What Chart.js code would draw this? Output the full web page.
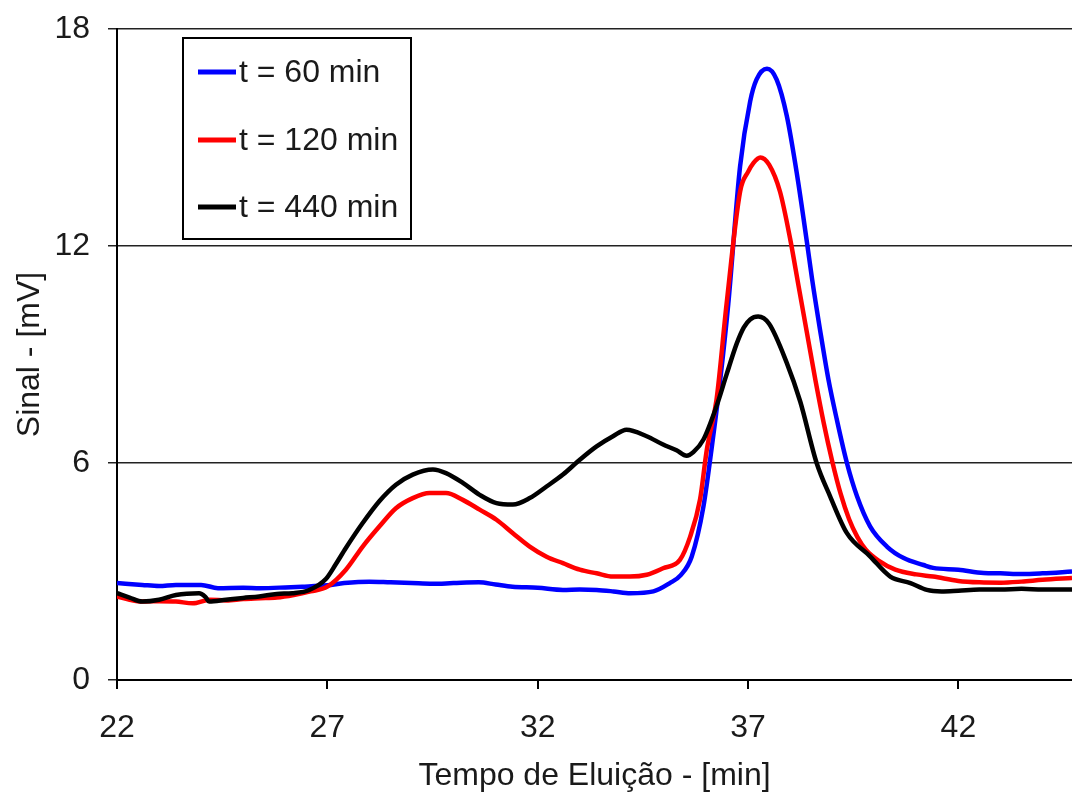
<!DOCTYPE html>
<html>
<head>
<meta charset="utf-8">
<script src="https://cdn.jsdelivr.net/npm/chart.js@4.4.1/dist/chart.umd.min.js"></script>
<style>
  html, body { margin: 0; padding: 0; background: #fff; }
  canvas { display: block; }
</style>
</head>
<body>
<canvas id="chromChart" width="1072" height="794"></canvas>
<script>
// series labels and colours
const seriesLabels = ['t = 60 min', 't = 120 min', 't = 440 min'];
const seriesColors = ['#0000ff', '#ff0000', '#000000'];

// elution time [min] / signal [mV]
const t60x = [22.0, 22.6, 23.0, 23.4, 24.0, 24.4, 25.0, 25.4, 26.0, 26.4, 27.0, 27.4, 28.0, 28.5, 29.0, 29.5, 30.0, 30.6, 31.0, 31.4, 32.0, 32.6, 33.0, 33.4, 33.8, 34.2, 34.75, 35.14, 35.4, 35.66, 35.94, 36.13, 36.33, 36.53, 36.81, 37.05, 37.2, 37.45, 37.68, 37.92, 38.16, 38.4, 38.52, 38.71, 38.91, 39.11, 39.35, 39.59, 39.9, 40.3, 40.7, 41.17, 41.4, 42.0, 42.6, 43.0, 43.5, 44.0, 44.7];
const t60y = [2.68, 2.63, 2.6, 2.63, 2.63, 2.54, 2.55, 2.54, 2.56, 2.58, 2.62, 2.68, 2.72, 2.7, 2.68, 2.66, 2.68, 2.7, 2.64, 2.58, 2.55, 2.49, 2.5, 2.49, 2.45, 2.4, 2.45, 2.68, 2.9, 3.41, 4.8, 6.37, 8.21, 10.4, 14.2, 16.0, 16.6, 16.9, 16.6, 15.6, 14.0, 12.1, 11.1, 9.69, 8.31, 7.2, 6.0, 5.08, 4.25, 3.69, 3.37, 3.18, 3.1, 3.05, 2.96, 2.95, 2.93, 2.95, 3.0];

const t120x = [22.0, 22.3, 22.6, 23.0, 23.4, 23.8, 24.2, 24.6, 25.0, 25.4, 25.8, 26.2, 26.6, 27.0, 27.44, 27.84, 28.24, 28.63, 29.03, 29.43, 29.82, 30.22, 30.62, 31.02, 31.41, 31.81, 32.21, 32.6, 33.0, 33.4, 33.79, 34.19, 34.59, 34.98, 35.38, 35.62, 35.86, 36.02, 36.25, 36.49, 36.81, 37.0, 37.13, 37.29, 37.5, 37.76, 38.0, 38.2, 38.4, 38.6, 38.8, 39.0, 39.2, 39.4, 39.6, 39.8, 40.1, 40.5, 41.0, 41.4, 42.0, 42.5, 43.0, 43.5, 44.0, 44.7];
const t120y = [2.31, 2.22, 2.17, 2.18, 2.17, 2.12, 2.22, 2.2, 2.24, 2.26, 2.28, 2.35, 2.45, 2.58, 3.05, 3.69, 4.25, 4.75, 5.03, 5.17, 5.17, 4.98, 4.71, 4.43, 4.06, 3.69, 3.41, 3.23, 3.05, 2.95, 2.86, 2.86, 2.91, 3.09, 3.32, 3.95, 5.0, 6.37, 7.75, 10.4, 13.5, 14.05, 14.3, 14.45, 14.25, 13.5, 12.2, 10.9, 9.6, 8.3, 7.1, 6.05, 5.15, 4.45, 3.95, 3.6, 3.3, 3.05, 2.92, 2.86, 2.74, 2.7, 2.69, 2.72, 2.77, 2.82];

const t440x = [22.0, 22.3, 22.6, 23.0, 23.4, 23.95, 24.1, 24.19, 24.59, 25.0, 25.38, 25.8, 26.17, 26.57, 26.97, 27.2, 27.44, 27.84, 28.24, 28.63, 29.03, 29.51, 29.82, 30.22, 30.62, 31.02, 31.41, 31.81, 32.21, 32.6, 33.0, 33.4, 33.79, 34.11, 34.59, 34.98, 35.3, 35.54, 35.7, 35.94, 36.25, 36.49, 36.73, 36.9, 37.05, 37.24, 37.5, 37.92, 38.24, 38.63, 38.95, 39.35, 39.9, 40.38, 40.86, 41.25, 41.6, 42.0, 42.5, 43.0, 43.5, 44.0, 44.7];
const t440y = [2.4, 2.28, 2.17, 2.22, 2.35, 2.4, 2.3, 2.17, 2.22, 2.27, 2.31, 2.38, 2.4, 2.49, 2.8, 3.2, 3.65, 4.34, 4.95, 5.4, 5.68, 5.82, 5.72, 5.45, 5.12, 4.89, 4.85, 5.03, 5.35, 5.68, 6.09, 6.46, 6.74, 6.92, 6.74, 6.51, 6.35, 6.2, 6.3, 6.65, 7.57, 8.45, 9.3, 9.75, 9.97, 10.05, 9.85, 8.77, 7.7, 6.0, 5.08, 4.06, 3.42, 2.86, 2.68, 2.49, 2.45, 2.47, 2.5, 2.5, 2.52, 2.5, 2.5];

// axis ticks
const xTickValues = [22, 27, 32, 37, 42];
const yTickValues = [0, 6, 12, 18];

const FONT = '"Liberation Sans", Arial, sans-serif';
const TEXT = '#1a1a1a';
const FONT_SIZE = 32;

function toPoints(xs, ys) {
  return xs.map((x, i) => ({ x: x, y: ys[i] }));
}

const seriesX = [t60x, t120x, t440x];
const seriesY = [t60y, t120y, t440y];

const datasets = seriesLabels.map((label, i) => ({
  label: label,
  data: toPoints(seriesX[i], seriesY[i]),
  borderColor: seriesColors[i],
  borderWidth: 4.5,
  pointRadius: 0,
  fill: false,
  cubicInterpolationMode: 'monotone',
  order: seriesLabels.length - i   // black drawn on top
}));

// legend box inside the plot, like the original
const boxLegend = {
  id: 'boxLegend',
  afterDatasetsDraw(chart) {
    const ctx = chart.ctx;
    const x0 = 183, y0 = 38, w = 228, h = 201;
    ctx.save();
    ctx.fillStyle = '#fff';
    ctx.fillRect(x0, y0, w, h);
    ctx.strokeStyle = '#000';
    ctx.lineWidth = 2;
    ctx.strokeRect(x0, y0, w, h);
    ctx.font = FONT_SIZE + 'px ' + FONT;
    ctx.textBaseline = 'middle';
    const rows = [72, 140, 207];
    seriesLabels.forEach((label, i) => {
      ctx.strokeStyle = seriesColors[i];
      ctx.lineWidth = 5;
      ctx.beginPath();
      ctx.moveTo(198, rows[i]);
      ctx.lineTo(236, rows[i]);
      ctx.stroke();
      ctx.fillStyle = TEXT;
      ctx.fillText(label, 239, rows[i] + 1);
    });
    ctx.restore();
  }
};

new Chart(document.getElementById('chromChart'), {
  type: 'line',
  data: { datasets },
  plugins: [boxLegend],
  options: {
    responsive: false,
    animation: false,
    layout: { padding: { left: 0, right: 0, top: 29, bottom: 0 } },
    plugins: {
      legend: { display: false },
      tooltip: { enabled: false }
    },
    scales: {
      x: {
        type: 'linear',
        min: 22,
        max: 44.7,
        afterBuildTicks: axis => { axis.ticks = xTickValues.map(v => ({ value: v })); },
        afterFit: s => { s.height = 114; },
        grid: { drawOnChartArea: false, drawTicks: true, tickLength: 9, color: '#000', lineWidth: 2 },
        border: { color: '#000', width: 2 },
        ticks: { color: TEXT, font: { family: FONT, size: FONT_SIZE }, padding: 20, maxRotation: 0 },
        title: {
          display: true,
          text: 'Tempo de Eluição - [min]',
          color: TEXT,
          font: { family: FONT, size: FONT_SIZE, lineHeight: 1 },
          padding: { top: 0, bottom: 2 }
        }
      },
      y: {
        min: 0,
        max: 18,
        afterBuildTicks: axis => { axis.ticks = yTickValues.map(v => ({ value: v })); },
        afterFit: s => { s.width = 117; s.paddingTop = 0; s.paddingBottom = 0; },
        grid: { color: '#222', lineWidth: 1.5, tickLength: 9, drawTicks: true },
        border: { color: '#000', width: 2 },
        ticks: { color: TEXT, font: { family: FONT, size: FONT_SIZE }, padding: 18 },
        title: {
          display: true,
          text: 'Sinal - [mV]',
          color: TEXT,
          font: { family: FONT, size: FONT_SIZE, lineHeight: 1 },
          padding: { top: 14, bottom: 0 }
        }
      }
    }
  }
});
</script>
</body>
</html>
